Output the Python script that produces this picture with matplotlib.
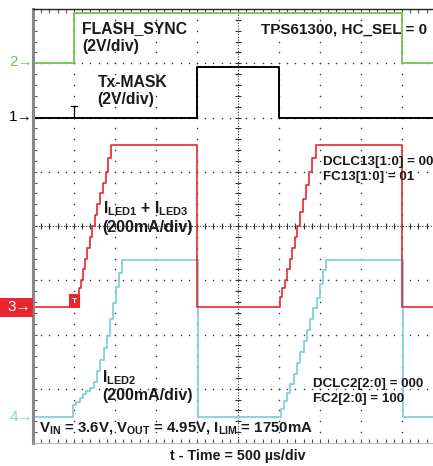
import numpy as np
import matplotlib
matplotlib.use('Agg')
import matplotlib.pyplot as plt
from matplotlib.patches import Rectangle

plt.rcParams['font.family'] = ['Liberation Sans', 'DejaVu Sans']
plt.rcParams['mathtext.fontset'] = 'custom'
plt.rcParams['mathtext.rm'] = 'Liberation Sans:bold'

# scope settings
us_per_div = 500.0
v_per_div = 2.0
ma_per_div = 200.0
trig_us = 500.0

# channel ground levels (divisions from bottom of screen)
ch2_gnd, ch1_gnd, ch3_gnd, ch4_gnd = 7.0, 6.0, 2.5, 0.48

# CH2 FLASH_SYNC (V)
sync_t = [0, 500, 4500, 5300]
sync_v = [0, 1.85, 0, 0]

# CH1 Tx-MASK (V)
mask_t = [0, 2000, 2995, 5300]
mask_v = [0, 1.85, 0, 0]

# CH3 ILED1 + ILED3 (mA), staircase
led13_t = [0, 561, 585, 610, 635, 660, 690, 720, 750, 780, 815, 850, 885, 920, 951,
           2000, 3012, 3040, 3070, 3100, 3130, 3160, 3190, 3220, 3255, 3290, 3325,
           3360, 3400, 3451, 4500, 5300]
led13_i = [0, 70, 100, 140, 180, 220, 260, 300, 340, 380, 420, 460, 500, 550, 600,
           0, 40, 70, 100, 140, 180, 220, 260, 300, 350, 400, 450, 500, 550, 600,
           0, 0]

# CH4 ILED2 (mA), staircase
led2_t = [0, 488, 530, 570, 610, 650, 695, 740, 780, 820, 860, 902, 940, 975, 1010,
          1045, 1085, 2010, 3024, 3060, 3100, 3140, 3180, 3220, 3260, 3300,
          3340, 3380, 3420, 3460, 3500, 3540, 3573, 4510, 5300]
led2_i = [0, 45, 55, 70, 85, 95, 105, 130, 170, 210, 255, 300, 360, 420, 480,
          530, 578, 0, 30, 60, 90, 120, 160, 200, 240, 280,
          320, 360, 400, 440, 490, 540, 578, 0, 0]

W, H = 433, 466
fig = plt.figure(figsize=(W / 100, H / 100), dpi=100)
ax = fig.add_axes([33 / W, 23 / H, 410 / W, 434 / H])
ax.set_xlim(0, 10)
ax.set_ylim(0, 8)

# screen graticule
for gx in range(1, 10):
    ys = np.arange(0, 8.01, 0.2)
    ax.plot(np.full_like(ys, gx), ys, ls='none', marker='o', ms=1.1, color='#333333', mec='none')
for gy in range(1, 8):
    xs = np.arange(0, 10.01, 0.2)
    ax.plot(xs, np.full_like(xs, gy), ls='none', marker='o', ms=1.1, color='#333333', mec='none')
ax.plot([0, 10], [4, 4], color='#333333', lw=0.8, ls=(0, (1, 1.5)))
ax.plot([5, 5], [0, 8], color='#333333', lw=0.8, ls=(0, (1, 1.5)))
mx = np.arange(0, 10.01, 0.2)
my = np.arange(0, 8.01, 0.2)
ax.plot(mx, np.full_like(mx, 4), ls='none', marker='|', ms=5, mew=0.8, color='#333333')
ax.plot(np.full_like(my, 5), my, ls='none', marker='_', ms=5, mew=0.8, color='#333333')

ax.set_xticks(np.arange(0, 10.01, 0.2))
ax.set_yticks(np.arange(0, 8.01, 0.2))
ax.tick_params(direction='in', length=3, width=0.8, color='#555555',
               top=True, bottom=True, left=True, right=False,
               labelbottom=False, labelleft=False)
ax.spines['top'].set_color('#222222')
ax.spines['top'].set_linewidth(1.0)
ax.spines['left'].set_color('#888888')
ax.spines['left'].set_linewidth(2.2)
ax.spines['bottom'].set_color('#bbbbbb')
ax.spines['right'].set_visible(False)

green = '#74c257'
red = '#e8262e'
cyan = '#7fd3d3'

def tx(t):
    return np.asarray(t) / us_per_div

ax.plot(tx(sync_t), ch2_gnd + np.asarray(sync_v) / v_per_div, color=green, lw=1.3, drawstyle='steps-post')
ax.plot(tx(mask_t), ch1_gnd + np.asarray(mask_v) / v_per_div, color='black', lw=1.4, drawstyle='steps-post')
ax.plot(tx(led2_t), ch4_gnd + np.asarray(led2_i) / ma_per_div, color=cyan, lw=1.3, drawstyle='steps-post')
ax.plot(tx(led13_t), ch3_gnd + np.asarray(led13_i) / ma_per_div, color=red, lw=1.2, drawstyle='steps-post')

# trigger markers
tt = trig_us / us_per_div
ax.plot([tt, tt], [ch1_gnd, ch1_gnd + 0.22], color='black', lw=0.9)
ax.plot([tt - 0.07, tt + 0.07], [ch1_gnd + 0.22, ch1_gnd + 0.22], color='black', lw=0.9)
ax.add_patch(Rectangle((tt - 0.12, ch3_gnd), 0.24, 0.25, facecolor=red, edgecolor=red, lw=0.8))
ax.text(tt, ch3_gnd + 0.11, 'T', color='white', fontsize=6, ha='center', va='center', fontweight='bold')


def ftext(x, y, s, **kw):
    kw.setdefault('fontweight', 'bold')
    kw.setdefault('color', '#1a1a1a')
    kw.setdefault('va', 'baseline')
    fig.text(x / W, 1 - y / H, s, **kw)


ftext(82, 33, 'FLASH_SYNC', fontsize=11.3)
ftext(82, 51, '(2V/div)', fontsize=11.3)
ftext(261, 33, 'TPS61300, HC_SEL = 0', fontsize=11)
ftext(98, 87, 'Tx-MASK', fontsize=11.3)
ftext(97, 104, '(2V/div)', fontsize=11.3)
ftext(103, 213, r'I$_{\mathrm{LED1}}$ + I$_{\mathrm{LED3}}$', fontsize=11.3)
ftext(102, 232, '(200mA/div)', fontsize=11.5)
ftext(323, 165, 'DCLC13[1:0] = 00', fontsize=9.6)
ftext(323, 180, 'FC13[1:0] = 01', fontsize=9.6)
ftext(102, 382, r'I$_{\mathrm{LED2}}$', fontsize=11.3)
ftext(102, 400, '(200mA/div)', fontsize=11.5)
ftext(313, 387, 'DCLC2[2:0] = 000', fontsize=9.6)
ftext(313, 402, 'FC2[2:0] = 100', fontsize=9.6)
ftext(39, 432, r'V$_{\mathrm{IN}}$ = 3.6V, V$_{\mathrm{OUT}}$ = 4.95V, I$_{\mathrm{LIM}}$ = 1750mA', fontsize=10.8)
ftext(238, 460, 't - Time = 500 \u00b5s/div', fontsize=10.3, ha='center')

# channel ground markers
ftext(33, 62, '2\u2192', fontsize=11, color=green, fontweight='normal', ha='right', va='center')
ftext(33, 117, '1\u2192', fontsize=11, color='black', fontweight='normal', ha='right', va='center')
fig.patches.append(Rectangle((0, 1 - 317 / H), 33 / W, 19 / H, transform=fig.transFigure,
                             facecolor=red, edgecolor='none'))
ftext(31, 307, '3\u2192', fontsize=11, color='white', fontweight='normal', ha='right', va='center')
ftext(33, 417, '4\u2192', fontsize=11, color=cyan, fontweight='normal', ha='right', va='center')

fig.savefig('out.png', dpi=100)
